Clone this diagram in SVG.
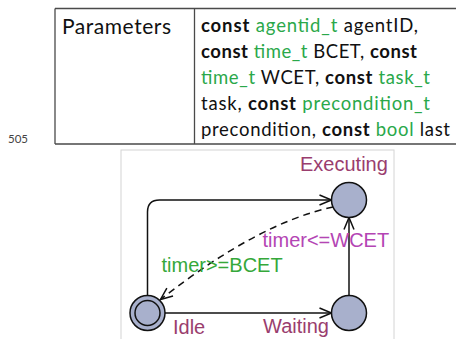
<svg xmlns="http://www.w3.org/2000/svg" width="456" height="339" viewBox="0 0 456 339">
  <style>
    .tbl { stroke: #4a4a4a; stroke-width: 1.3; fill: none; }
    .doc { font-family: Lato, "Noto Sans", "Liberation Sans", sans-serif; fill: #111; }
    .kw { font-weight: bold; }
    .ty { fill: #2aa84a; }
    .loc { fill: #a8b0cc; stroke: #111; stroke-width: 1.5; }
    .edge { fill: none; stroke: #111; stroke-width: 1.5; }
    .dash { stroke-dasharray: 7 5; }
    .lbl { font-family: "Liberation Sans", Arial, sans-serif; font-size: 20px; }
    .name { fill: #9a3d6e; }
    .inv { fill: #b445b4; }
    .guard { fill: #35a83a; }
  </style>
  <defs>
    <marker id="arrow" markerUnits="userSpaceOnUse" markerWidth="14" markerHeight="12" refX="12" refY="5" orient="auto" overflow="visible">
      <path d="M0,0 L12,5 L0,10" fill="none" stroke="#111" stroke-width="1.5"/>
    </marker>
  </defs>

  <rect width="456" height="339" fill="#fff"/>

  <!-- parameter table -->
  <g id="param-table">
    <path class="tbl" d="M55,8.5 H456 M55,8.5 V144 M194.5,8.5 V144 M55,144 H456"/>
    <text class="doc" x="62" y="34" font-size="21" textLength="109">Parameters</text>
    <g class="doc" font-size="18.5">
      <text x="201" y="32" textLength="217"><tspan class="kw">const</tspan> <tspan class="ty">agentid_t</tspan> agentID,</text>
      <text x="201" y="58" textLength="216"><tspan class="kw">const</tspan> <tspan class="ty">time_t</tspan> BCET, <tspan class="kw">const</tspan></text>
      <text x="201" y="84" textLength="229"><tspan class="ty">time_t</tspan> WCET, <tspan class="kw">const</tspan> <tspan class="ty">task_t</tspan></text>
      <text x="201" y="110" textLength="229">task, <tspan class="kw">const</tspan> <tspan class="ty">precondition_t</tspan></text>
      <text x="201" y="136" textLength="249">precondition, <tspan class="kw">const</tspan> <tspan class="ty">bool</tspan> last</text>
    </g>
  </g>
  <text x="8" y="143" font-family="Lato, 'Liberation Sans', sans-serif" font-size="11.5" fill="#444">505</text>

  <!-- automaton frame -->
  <rect x="121" y="150" width="273" height="200" fill="#fff" stroke="#d4d4d4" stroke-width="1"/>

  <!-- transitions -->
  <g id="edges">
    <path class="edge" d="M147.5,295.5 V212 Q147.5,200 159.5,200 H331.5" marker-end="url(#arrow)"/>
    <path class="edge" d="M165,313 H331.5" marker-end="url(#arrow)"/>
    <path class="edge" d="M349,295.5 V217.5" marker-end="url(#arrow)"/>
    <path class="edge dash" d="M333,207 Q258,223 160.5,299.5" marker-end="url(#arrow)"/>
    <text class="lbl inv" x="262.5" y="247">timer&lt;=WCET</text>
    <text class="lbl guard" x="161.5" y="272">timer&gt;=BCET</text>
  </g>

  <!-- locations -->
  <g id="executing">
    <circle class="loc" cx="349" cy="200" r="17.5"/>
    <text class="lbl name" x="300" y="171">Executing</text>
  </g>
  <g id="waiting">
    <circle class="loc" cx="349" cy="313" r="17.5"/>
    <text class="lbl name" x="263" y="333">Waiting</text>
  </g>
  <g id="idle">
    <circle class="loc" cx="147.5" cy="313" r="17.5"/>
    <circle class="loc" cx="147.5" cy="313" r="12.5"/>
    <text class="lbl name" x="173" y="333.5">Idle</text>
  </g>
</svg>
